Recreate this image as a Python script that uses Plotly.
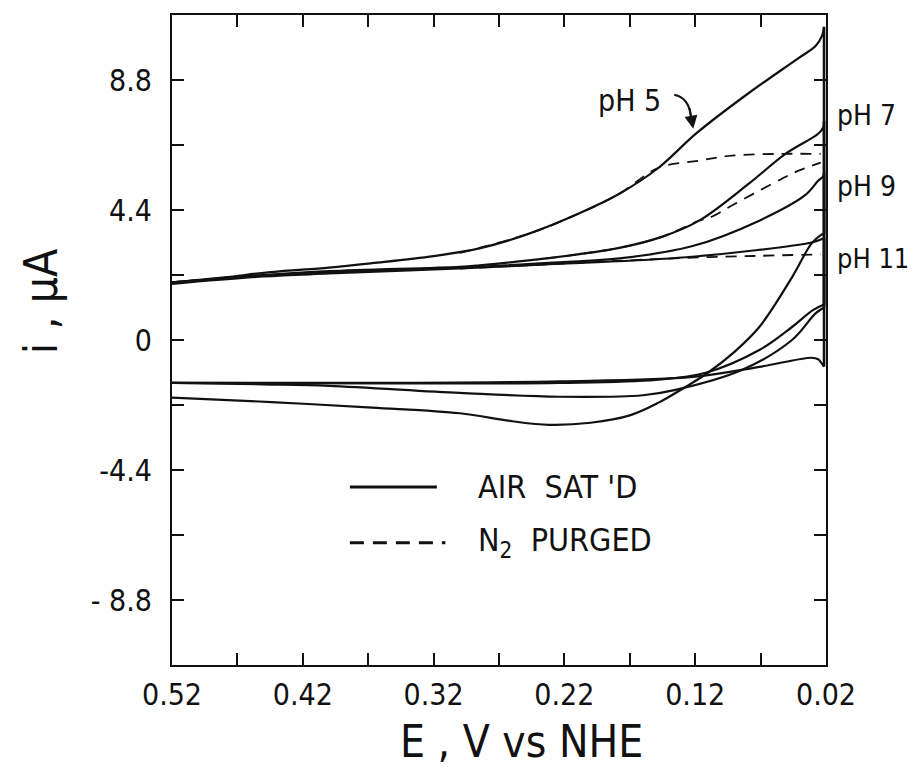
import plotly.graph_objects as go

# ---------------- data ----------------
# Forward (upper) branches, scan 0.52 -> 0.02 V
ph5_up_E = [0.52, 0.48, 0.444, 0.40, 0.367, 0.32, 0.285, 0.247, 0.209, 0.178, 0.148, 0.119, 0.079, 0.041, 0.028, 0.023, 0.0215]
ph5_up_i = [1.95, 2.12, 2.3, 2.45, 2.6, 2.84, 3.1, 3.6, 4.28, 4.95, 5.83, 7.0, 8.36, 9.54, 9.95, 10.3, 10.6]
ph7_up_E = [0.52, 0.45, 0.40, 0.30, 0.285, 0.234, 0.178, 0.145, 0.117, 0.079, 0.051, 0.026, 0.022, 0.0215]
ph7_up_i = [1.95, 2.2, 2.33, 2.48, 2.53, 2.76, 3.12, 3.5, 4.04, 5.29, 6.3, 6.98, 7.2, 7.4]
ph9_up_E = [0.52, 0.45, 0.40, 0.30, 0.224, 0.178, 0.122, 0.071, 0.036, 0.026, 0.022, 0.0215]
ph9_up_i = [1.95, 2.18, 2.3, 2.45, 2.63, 2.76, 3.18, 4.04, 4.9, 5.39, 5.55, 5.66]
ph11_up_E = [0.52, 0.45, 0.40, 0.30, 0.224, 0.127, 0.031, 0.024, 0.0215]
ph11_up_i = [1.9, 2.15, 2.25, 2.42, 2.58, 2.8, 3.3, 3.4, 3.45]

# Reverse (lower) branches, scan 0.02 -> 0.52 V
ph5_dn_E = [0.0215, 0.024, 0.031, 0.046, 0.071, 0.09, 0.110, 0.127, 0.148, 0.17, 0.20, 0.232, 0.26, 0.30, 0.367, 0.444, 0.52]
ph5_dn_i = [3.6, 3.55, 3.27, 2.12, 0.44, -0.4, -1.1, -1.58, -2.12, -2.55, -2.8, -2.87, -2.75, -2.48, -2.29, -2.1, -1.95]
ph7_dn_E = [0.0215, 0.028, 0.046, 0.084, 0.135, 0.16, 0.224, 0.30, 0.40, 0.45, 0.52]
ph7_dn_i = [1.1, 0.9, 0.0, -1.01, -1.69, -1.87, -1.92, -1.79, -1.55, -1.5, -1.45]
ph9_dn_E = [0.0215, 0.03, 0.046, 0.071, 0.112, 0.15, 0.224, 0.35, 0.52]
ph9_dn_i = [1.2, 1.01, 0.44, -0.34, -1.11, -1.35, -1.45, -1.47, -1.45]
ph11_dn_E = [0.0215, 0.024, 0.026, 0.031, 0.071, 0.122, 0.224, 0.35, 0.52]
ph11_dn_i = [-0.9, -0.75, -0.65, -0.6, -0.91, -1.25, -1.4, -1.45, -1.45]

# N2 purged (dashed) forward branches
ph5_n2_E = [0.30, 0.247, 0.209, 0.178, 0.148, 0.117, 0.092, 0.054, 0.024]
ph5_n2_i = [2.95, 3.6, 4.28, 4.95, 5.83, 6.07, 6.24, 6.3, 6.3]
ph7_n2_E = [0.234, 0.178, 0.145, 0.117, 0.109, 0.092, 0.061, 0.041, 0.024]
ph7_n2_i = [2.76, 3.12, 3.5, 4.04, 4.14, 4.55, 5.29, 5.73, 6.0]
ph11_n2_E = [0.30, 0.224, 0.127, 0.07, 0.024]
ph11_n2_i = [2.42, 2.58, 2.78, 2.85, 2.9]

x_tick_vals = [0.52, 0.47, 0.42, 0.37, 0.32, 0.27, 0.22, 0.17, 0.12, 0.07, 0.02]
x_tick_text = ["0.52", "", "0.42", "", "0.32", "", "0.22", "", "0.12", "", "0.02"]
y_tick_vals = [8.8, 6.6, 4.4, 2.2, 0, -2.2, -4.4, -6.6, -8.8]
y_tick_text = ["8.8", "", "4.4", "", "0", "", "-4.4", "", "- 8.8"]

FONT = "DejaVu Sans Condensed, DejaVu Sans, sans-serif"
BLACK = "#111111"

fig = go.Figure()

branches = [(ph5_up_E, ph5_up_i), (ph5_dn_E, ph5_dn_i),
            (ph7_up_E, ph7_up_i), (ph7_dn_E, ph7_dn_i),
            (ph9_up_E, ph9_up_i), (ph9_dn_E, ph9_dn_i),
            (ph11_up_E, ph11_up_i), (ph11_dn_E, ph11_dn_i)]
for xs, ys in branches:
    fig.add_trace(go.Scatter(x=xs, y=ys, mode="lines",
                             line=dict(color=BLACK, width=2.2, shape="spline", smoothing=1.0),
                             showlegend=False, hoverinfo="skip"))

# vertical switching segments at the reversal potential
for up, dn in [((ph5_up_E, ph5_up_i), (ph5_dn_E, ph5_dn_i)),
               ((ph7_up_E, ph7_up_i), (ph7_dn_E, ph7_dn_i)),
               ((ph9_up_E, ph9_up_i), (ph9_dn_E, ph9_dn_i)),
               ((ph11_up_E, ph11_up_i), (ph11_dn_E, ph11_dn_i))]:
    fig.add_trace(go.Scatter(x=[up[0][-1], dn[0][0]], y=[up[1][-1], dn[1][0]], mode="lines",
                             line=dict(color=BLACK, width=2.6), showlegend=False, hoverinfo="skip"))

for xs, ys in [(ph5_n2_E, ph5_n2_i), (ph7_n2_E, ph7_n2_i), (ph11_n2_E, ph11_n2_i)]:
    fig.add_trace(go.Scatter(x=xs, y=ys, mode="lines",
                             line=dict(color=BLACK, width=1.8, dash="11px,8px", shape="spline", smoothing=1.0),
                             showlegend=False, hoverinfo="skip"))

axis_common = dict(showgrid=False, zeroline=False, showline=True, linecolor=BLACK, linewidth=2.2,
                   mirror="allticks", ticks="inside", ticklen=12, tickwidth=2, tickcolor=BLACK,
                   tickfont=dict(family=FONT, size=30, color=BLACK))

fig.update_xaxes(range=[0.52, 0.02], tickmode="array", tickvals=x_tick_vals, ticktext=x_tick_text,
                 ticklabelstandoff=2, **axis_common)
fig.update_yaxes(range=[-11, 11], tickmode="array", tickvals=y_tick_vals, ticktext=y_tick_text,
                 ticklabelstandoff=12, **axis_common)

annotations = [
    dict(text="E , V vs NHE", xref="paper", yref="paper", x=0.535, y=-0.117, xanchor="center",
         yanchor="middle", showarrow=False, font=dict(family=FONT, size=44, color=BLACK)),
    dict(text="i , µA", xref="paper", yref="paper", x=-0.2, y=0.56, xanchor="center", yanchor="middle",
         textangle=-90, showarrow=False, font=dict(family=FONT, size=46, color=BLACK)),
    dict(text="pH 5", xref="x", yref="y", x=0.17, y=8.1, xanchor="center", yanchor="middle",
         showarrow=False, font=dict(family=FONT, size=30, color=BLACK)),
    dict(text="pH 7", xref="paper", yref="y", x=1.013, y=7.6, xanchor="left", yanchor="middle",
         showarrow=False, font=dict(family=FONT, size=28, color=BLACK)),
    dict(text="pH 9", xref="paper", yref="y", x=1.013, y=5.2, xanchor="left", yanchor="middle",
         showarrow=False, font=dict(family=FONT, size=28, color=BLACK)),
    dict(text="pH 11", xref="paper", yref="y", x=1.013, y=2.75, xanchor="left", yanchor="middle",
         showarrow=False, font=dict(family=FONT, size=27, color=BLACK)),
    # arrow head for pH 5
    dict(text="", xref="x", yref="y", x=0.1215, y=7.15, axref="x", ayref="y", ax=0.1245, ay=7.9,
         showarrow=True, arrowhead=2, arrowsize=1.3, arrowwidth=2, arrowcolor=BLACK),
    # legend text
    dict(text="AIR  SAT 'D", xref="paper", yref="paper", x=0.465, y=0.274, xanchor="left", yanchor="middle",
         showarrow=False, font=dict(family=FONT, size=32, color=BLACK)),
    dict(text="N<sub>2</sub>  PURGED", xref="paper", yref="paper", x=0.465, y=0.19, xanchor="left",
         yanchor="middle", showarrow=False, font=dict(family=FONT, size=32, color=BLACK)),
]

shapes = [
    # curved arrow stem for pH 5
    dict(type="path", xref="x", yref="y", path="M 0.136,8.3 Q 0.125,8.2 0.1235,7.6",
         line=dict(color=BLACK, width=2)),
    # legend samples
    dict(type="line", xref="paper", yref="paper", x0=0.272, x1=0.405, y0=0.274, y1=0.274,
         line=dict(color=BLACK, width=3)),
    dict(type="line", xref="paper", yref="paper", x0=0.272, x1=0.418, y0=0.188, y1=0.188,
         line=dict(color=BLACK, width=3, dash="14px,9px")),
]

fig.update_layout(width=916, height=770, margin=dict(l=172, r=90, t=15, b=105),
                  paper_bgcolor="white", plot_bgcolor="white",
                  annotations=annotations, shapes=shapes, showlegend=False)

fig.write_html("out.html")
